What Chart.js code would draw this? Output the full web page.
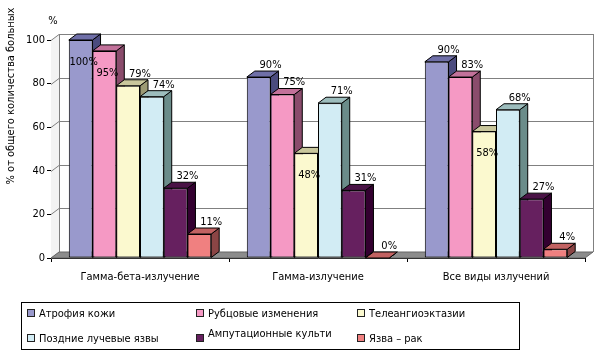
<!DOCTYPE html>
<html><head><meta charset="utf-8">
<script src="https://cdn.jsdelivr.net/npm/chart.js@4"></script>
<style>
html,body{margin:0;padding:0;background:#fff;}
#wrap{position:relative;width:601px;height:357px;overflow:hidden;}
#c{position:absolute;left:0;top:0;}
#legend{position:absolute;left:21px;top:302px;width:499px;height:48px;border:1px solid #000;box-sizing:border-box;font:11px "DejaVu Sans Condensed","DejaVu Sans",sans-serif;color:#000;}
.item{position:absolute;display:flex;align-items:center;white-space:nowrap;height:14px;}
.sw{width:6px;height:6px;border:1px solid #222;margin-right:4px;flex:none;}
</style></head>
<body>
<div id="wrap">
<canvas id="c" width="601" height="357"></canvas>
<div id="legend"></div>
</div>
<script>
// ---- data ----
const categories = ["Гамма-бета-излучение", "Гамма-излучение", "Все виды излучений"];
const seriesNames = ["Атрофия кожи", "Рубцовые изменения", "Телеангиоэктазии", "Поздние лучевые язвы", "Ампутационные культи", "Язва – рак"];
const atrophy        = [100, 83, 90];
const scars          = [95, 75, 83];
const telangiectasia = [79, 48, 58];
const lateUlcers     = [74, 71, 68];
const amputation     = [32, 31, 27];
const ulcerCancer    = [11, 0, 4];
const atrophyLabels        = ["100%", "90%", "90%"];
const scarsLabels          = ["95%", "75%", "83%"];
const telangiectasiaLabels = ["79%", "48%", "58%"];
const lateUlcersLabels     = ["74%", "71%", "68%"];
const amputationLabels     = ["32%", "31%", "27%"];
const ulcerCancerLabels    = ["11%", "0%", "4%"];
const yTicks = [0, 20, 40, 60, 80, 100];
const yTitle = "% от общего количества больных";
const yUnit = "%";

// ---- style ----
const FONT = '"DejaVu Sans Condensed","DejaVu Sans",sans-serif';
const fronts = ["#9999CC", "#F599C4", "#FBF9CF", "#D2ECF4", "#66205F", "#F08080"];
const tops   = ["#6F6FA8", "#C2719A", "#C9C79C", "#9DBDBD", "#4A1346", "#C26262"];
const sides  = ["#4B4B7E", "#8A4C6C", "#9C9A74", "#6B8C8A", "#330030", "#8B4545"];
const insideLabel = [[true, false, false], [true, false, false], [false, true, true], [false, false, false], [false, false, false], [false, false, false]];
const DX = 8, DY = 6;

const seriesValues = [atrophy, scars, telangiectasia, lateUlcers, amputation, ulcerCancer];
const seriesLabels = [atrophyLabels, scarsLabels, telangiectasiaLabels, lateUlcersLabels, amputationLabels, ulcerCancerLabels];

// legend
const leg = document.getElementById('legend');
const colX = [5, 174, 335], rowY = [3, 28];
const legOrder = [[0,0,0],[1,0,1],[2,0,2],[3,1,0],[4,1,1],[5,1,2]];
legOrder.forEach(([i, r, c]) => {
  const d = document.createElement('div');
  d.className = 'item';
  d.style.left = colX[c] + 'px';
  d.style.top = rowY[r] + 'px';
  const lift = i === 4 ? 'position:relative;top:-5px;' : '';
  d.innerHTML = '<span class="sw" style="background:' + fronts[i] + '"></span><span style="' + lift + '">' + seriesNames[i] + '</span>';
  leg.appendChild(d);
});

function poly(ctx, pts, fill) {
  ctx.beginPath();
  ctx.moveTo(pts[0][0], pts[0][1]);
  for (let k = 1; k < pts.length; k++) ctx.lineTo(pts[k][0], pts[k][1]);
  ctx.closePath();
  if (fill) { ctx.fillStyle = fill; ctx.fill(); }
  ctx.stroke();
}

const threeD = {
  id: 'threeD',
  beforeDatasetsDraw(chart) {
    const ctx = chart.ctx, a = chart.chartArea, ys = chart.scales.y;
    const yTop = ys.getPixelForValue(100);
    ctx.save();
    ctx.lineWidth = 1;
    // left wall
    ctx.strokeStyle = '#808080';
    ctx.fillStyle = '#F3F3F3';
    ctx.beginPath();
    ctx.moveTo(a.left, a.bottom); ctx.lineTo(a.left + DX, a.bottom - DY);
    ctx.lineTo(a.left + DX, yTop - DY); ctx.lineTo(a.left, yTop); ctx.closePath(); ctx.fill();
    // grid lines
    yTicks.forEach(v => {
      const py = Math.round(ys.getPixelForValue(v)) + 0.5;
      ctx.beginPath();
      ctx.moveTo(a.left, py); ctx.lineTo(a.left + DX, py - DY); ctx.lineTo(a.right + DX, py - DY);
      ctx.stroke();
    });
    ctx.beginPath();
    ctx.moveTo(a.left + DX + 0.5, yTop - DY); ctx.lineTo(a.left + DX + 0.5, a.bottom - DY);
    ctx.moveTo(a.right + DX + 0.5, yTop - DY); ctx.lineTo(a.right + DX + 0.5, a.bottom - DY);
    ctx.stroke();
    // floor
    ctx.strokeStyle = '#666';
    poly(ctx, [[a.left, a.bottom], [a.right, a.bottom], [a.right + DX, a.bottom - DY], [a.left + DX, a.bottom - DY]], '#8C8C8C');
    // bar sides and tops
    ctx.strokeStyle = '#000';
    chart.data.datasets.forEach((ds, i) => {
      const meta = chart.getDatasetMeta(i);
      meta.data.forEach(bar => {
        const p = bar.getProps(['x', 'y', 'base', 'width'], true);
        const l = p.x - p.width / 2, r = p.x + p.width / 2, t = p.y, b = p.base;
        poly(ctx, [[r, t], [r + DX, t - DY], [r + DX, b - DY], [r, b]], sides[i]);
        poly(ctx, [[l, t], [r, t], [r + DX, t - DY], [l + DX, t - DY]], tops[i]);
      });
    });
    ctx.restore();
  },
  afterDatasetsDraw(chart) {
    const ctx = chart.ctx;
    ctx.save();
    ctx.font = '11px ' + FONT;
    ctx.fillStyle = '#000';
    ctx.textAlign = 'center';
    ctx.textBaseline = 'middle';
    chart.data.datasets.forEach((ds, i) => {
      const meta = chart.getDatasetMeta(i);
      meta.data.forEach((bar, j) => {
        const p = bar.getProps(['x', 'y', 'width'], true);
        const txt = seriesLabels[i][j];
        if (insideLabel[i][j]) ctx.fillText(txt, p.x + 3, p.y + 22);
        else ctx.fillText(txt, p.x + p.width / 2, p.y - 12);
      });
    });
    ctx.restore();
  },
  afterDraw(chart) {
    const ctx = chart.ctx;
    ctx.save();
    ctx.font = '11px ' + FONT;
    ctx.fillStyle = '#000';
    ctx.textAlign = 'center';
    ctx.textBaseline = 'middle';
    ctx.fillText(yUnit, 53, 21);
    ctx.translate(11, 96);
    ctx.rotate(-Math.PI / 2);
    ctx.fillText(yTitle, 0, 0);
    ctx.restore();
  }
};

new Chart(document.getElementById('c'), {
  type: 'bar',
  data: {
    labels: categories,
    datasets: seriesNames.map((n, i) => ({
      label: n,
      data: seriesValues[i],
      backgroundColor: fronts[i],
      borderColor: '#000',
      borderWidth: 1,
      borderSkipped: false,
      categoryPercentage: 0.8,
      barPercentage: 1.0
    }))
  },
  options: {
    responsive: false,
    animation: false,
    layout: { padding: { left: 0, top: 40, right: 16, bottom: 0 } },
    plugins: { legend: { display: false }, tooltip: { enabled: false } },
    scales: {
      x: {
        afterFit: s => { s.height = 99; },
        grid: { drawOnChartArea: false, drawTicks: true, tickLength: 4, color: '#000', offset: true },
        border: { display: true, color: '#000' },
        ticks: { color: '#000', font: { family: FONT, size: 11 }, padding: 9, maxRotation: 0 }
      },
      y: {
        min: 0, max: 100,
        afterFit: s => { s.width = 51; },
        afterBuildTicks: s => { s.ticks = yTicks.map(v => ({ value: v })); },
        grid: { drawOnChartArea: false, drawTicks: true, tickLength: 4, color: '#000' },
        border: { display: true, color: '#000' },
        ticks: { color: '#000', font: { family: FONT, size: 11 }, padding: 2 }
      }
    }
  },
  plugins: [threeD]
});
</script>
</body></html>
